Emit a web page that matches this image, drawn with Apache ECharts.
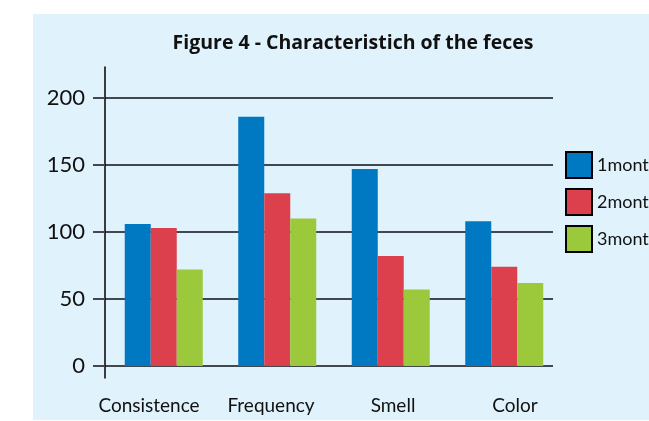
<!DOCTYPE html>
<html>
<head>
<meta charset="utf-8">
<script src="https://cdn.jsdelivr.net/npm/echarts@6/dist/echarts.min.js"></script>
<style>
  html, body { margin: 0; padding: 0; background: #fff; }
  #chart { width: 649px; height: 421px; }
</style>
</head>
<body>
<div id="chart"></div>
<script>
const categories = ['Consistence', 'Frequency', 'Smell', 'Color'];
const seriesNames = ['1month', '2month', '3month'];
const month1 = [106, 186, 147, 108];
const month2 = [103, 129, 82, 74];
const month3 = [72, 110, 57, 62];
const colors = ['#0079c2', '#dc404c', '#9cc83c'];

const chart = echarts.init(document.getElementById('chart'));
const font = 'Lato, "Open Sans", sans-serif';

// hidden helper axes share this style
const hidden = { show: false };

const option = {
  animation: false,
  graphic: [{
    type: 'rect',
    z: -10,
    shape: { x: 33, y: 14, width: 616, height: 406 },
    style: { fill: '#e0f2fc' }
  }],
  title: {
    text: 'Figure 4 - Characteristich of the feces',
    left: 353,
    top: 33,
    padding: 0,
    textAlign: 'center',
    textStyle: { fontFamily: '"Open Sans", Lato, sans-serif', fontWeight: 'bold', fontSize: 19.5, color: '#111' }
  },
  legend: {
    orient: 'vertical',
    left: 560,
    top: 146,
    itemWidth: 26,
    itemHeight: 26,
    itemGap: 9,
    icon: 'rect',
    itemStyle: { borderColor: '#000', borderWidth: 2 },
    textStyle: { fontFamily: font, fontSize: 18, color: '#111' },
    data: seriesNames
  },
  grid: [
    // bars
    { left: 107, right: 88, top: 98, bottom: 55 },
    // value axis with grid lines
    { left: 105, right: 96, top: 98, bottom: 55 },
    // long vertical axis line
    { left: 105, width: 10, top: 67, bottom: 43 },
    // category labels
    { left: 88, right: 73, top: 98, bottom: 55 }
  ],
  xAxis: [
    { gridIndex: 0, type: 'category', data: categories, show: false },
    { gridIndex: 1, type: 'category', data: categories, show: false },
    { gridIndex: 2, type: 'category', data: ['a'], show: false },
    {
      gridIndex: 3, type: 'category', data: categories,
      axisLine: hidden, axisTick: hidden, splitLine: hidden,
      axisLabel: { interval: 0, margin: 30, fontFamily: font, fontSize: 19, color: '#111' }
    }
  ],
  yAxis: [
    { gridIndex: 0, type: 'value', min: 0, max: 200, show: false },
    {
      gridIndex: 1, type: 'value', min: 0, max: 200, interval: 50,
      axisLine: hidden,
      axisTick: { show: true, inside: false, length: 12, lineStyle: { color: '#41484e', width: 2 } },
      splitLine: { show: true, lineStyle: { color: '#41484e', width: 2 } },
      axisLabel: { margin: 20, fontFamily: font, fontSize: 22, color: '#111' }
    },
    {
      gridIndex: 2, type: 'value', min: 0, max: 1,
      axisLine: { show: true, lineStyle: { color: '#000', width: 1.5 } },
      axisTick: hidden, axisLabel: hidden, splitLine: hidden
    },
    { gridIndex: 3, type: 'value', show: false }
  ],
  series: [
    { name: seriesNames[0], type: 'bar', data: month1 },
    { name: seriesNames[1], type: 'bar', data: month2 },
    { name: seriesNames[2], type: 'bar', data: month3 }
  ].map((s, i) => Object.assign(s, {
    xAxisIndex: 0,
    yAxisIndex: 0,
    barWidth: 26,
    barGap: '0%',
    itemStyle: { color: colors[i] }
  }))
};

chart.setOption(option);
</script>
</body>
</html>
